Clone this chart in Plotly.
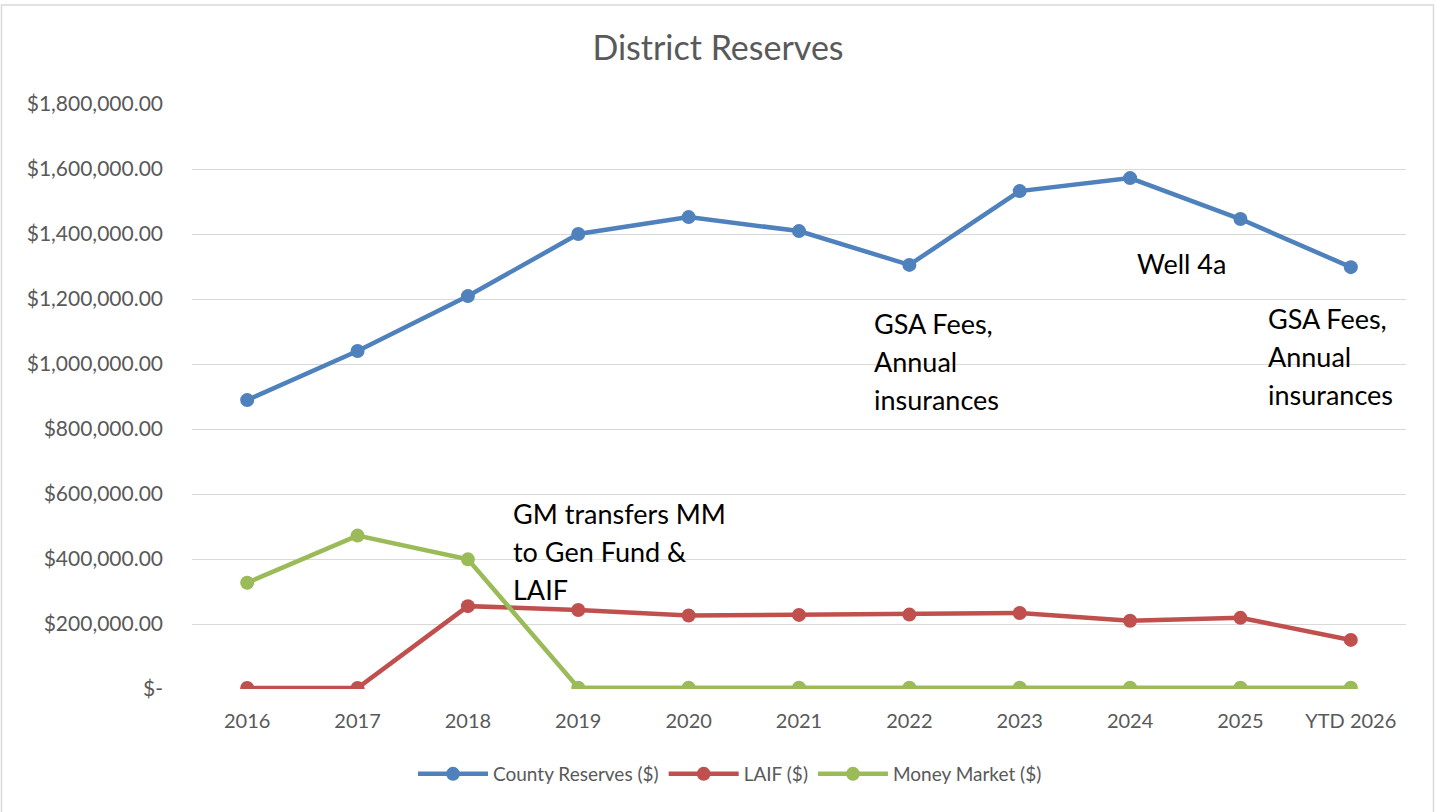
import plotly.graph_objects as go

categories = ["2016", "2017", "2018", "2019", "2020", "2021", "2022", "2023", "2024", "2025", "YTD 2026"]
county_reserves = [889000, 1040000, 1209000, 1400000, 1452000, 1409000, 1305000, 1532000, 1572000, 1446000, 1298000]
laif = [3000, 3000, 255000, 243000, 226000, 228000, 229000, 234000, 210000, 219000, 151000]
money_market = [327000, 472000, 399000, 4000, 4000, 4000, 4000, 4000, 4000, 4000, 4000]

tick_vals = [0, 200000, 400000, 600000, 800000, 1000000, 1200000, 1400000, 1600000, 1800000]
tick_text = ["$-", "$200,000.00", "$400,000.00", "$600,000.00", "$800,000.00",
             "$1,000,000.00", "$1,200,000.00", "$1,400,000.00", "$1,600,000.00", "$1,800,000.00"]

notes = [
    (2.39, 597000, ["GM transfers MM", "to Gen Fund &", "LAIF"]),
    (5.66, 1181000, ["GSA Fees,", "Annual", "insurances"]),
    (8.04, 1366000, ["Well 4a"]),
    (9.23, 1197000, ["GSA Fees,", "Annual", "insurances"]),
]

series = [
    ("County Reserves ($)", county_reserves, "#4F81BD"),
    ("LAIF ($)", laif, "#C0504D"),
    ("Money Market ($)", money_market, "#9BBB59"),
]

W, H = 1435, 812
ML, MR, MT, MB = 192, 29, 104, 123
FONT = "Lato, Liberation Sans, sans-serif"
GREY = "#595959"

fig = go.Figure()
for name, vals, col in series:
    fig.add_trace(go.Scatter(
        x=list(range(len(categories))), y=vals, name=name, mode="lines+markers",
        line=dict(color=col, width=4.5), marker=dict(color=col, size=14),
    ))

annotations = []
for xi, yv, lines in notes:
    for i, t in enumerate(lines):
        annotations.append(dict(
            x=xi, y=yv, xref="x", yref="y", text=t, showarrow=False,
            xanchor="left", yanchor="top", yshift=-38 * i,
            font=dict(family=FONT, size=27, color="#000000"),
        ))

pw = W - ML - MR
ph = H - MT - MB
fig.update_layout(
    width=W, height=H,
    margin=dict(l=ML, r=MR, t=MT, b=MB),
    paper_bgcolor="white", plot_bgcolor="white",
    title=dict(text="District Reserves", x=718 / W, xref="container", xanchor="center",
               y=1 - 48 / H, yref="container", yanchor="middle",
               font=dict(family=FONT, size=34, color=GREY)),
    font=dict(family=FONT, color=GREY),
    xaxis=dict(range=[-0.5, len(categories) - 0.5], tickvals=list(range(len(categories))),
               ticktext=categories, showgrid=False, zeroline=False, showline=False,
               ticks="", tickfont=dict(size=20, color=GREY), ticklabelstandoff=18),
    yaxis=dict(range=[0, 1800000], tickvals=tick_vals, ticktext=tick_text,
               showgrid=True, gridcolor="#D9D9D9", gridwidth=1, zeroline=False,
               showline=False, ticks="", tickfont=dict(size=21, color=GREY),
               ticklabelstandoff=28),
    legend=dict(orientation="h", x=730 / W, xref="container", xanchor="center",
                y=1 - 774 / H, yref="container", yanchor="middle",
                font=dict(size=19, color=GREY), itemwidth=70, tracegroupgap=0),
    annotations=annotations,
    shapes=[dict(type="rect", xref="paper", yref="paper",
                 x0=(1.5 - ML) / pw, x1=(W - 1.5 - ML) / pw,
                 y0=-(H + 5 - MT - ph) / ph, y1=(H - 5 - MB) / ph,
                 line=dict(color="#D9D9D9", width=1.5), layer="below")],
    showlegend=True,
)
fig.write_html("out.html", config={"displayModeBar": False},
               post_script="document.body.style.margin='0';")
